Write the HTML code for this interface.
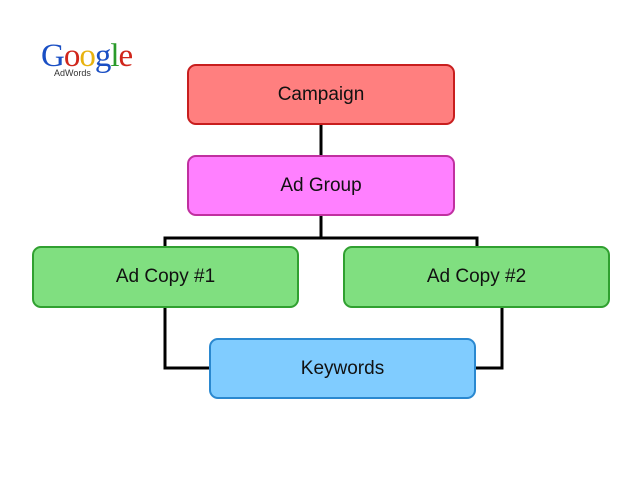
<!DOCTYPE html>
<html><head><style>
body{margin:0;width:640px;height:480px;background:#fff;position:relative;overflow:hidden;font-family:"Liberation Sans",sans-serif}
.b{position:absolute;box-sizing:border-box;border:2px solid;border-radius:9px;display:flex;align-items:center;justify-content:center;font-size:19px;color:#111}
</style></head><body>
<svg width="640" height="480" style="position:absolute;left:0;top:0">
<g stroke="#000" stroke-width="3" fill="none">
<line x1="321" y1="125" x2="321" y2="155"/>
<polyline points="321,216 321,238"/>
<polyline points="165,246 165,238 477,238 477,246"/>
<polyline points="165,308 165,368 209,368"/>
<polyline points="502,308 502,368 476,368"/>
</g>
</svg>
<div style="position:absolute;left:41px;top:38px;font-family:'Liberation Serif',serif;font-size:33px;letter-spacing:-1px">
<span style="color:#1a4fc4">G</span><span style="color:#d0261b">o</span><span style="color:#e8b20e">o</span><span style="color:#1a4fc4">g</span><span style="color:#2a9a2a">l</span><span style="color:#d0261b">e</span></div>
<div style="position:absolute;left:54px;top:68px;font-size:9px;color:#333">AdWords</div>
<div class="b" style="left:187px;top:64px;width:268px;height:61px;background:#ff7f7f;border-color:#c81e1e">Campaign</div>
<div class="b" style="left:187px;top:155px;width:268px;height:61px;background:#ff80ff;border-color:#c030a0">Ad Group</div>
<div class="b" style="left:32px;top:246px;width:267px;height:62px;background:#80df80;border-color:#30a030">Ad Copy #1</div>
<div class="b" style="left:343px;top:246px;width:267px;height:62px;background:#80df80;border-color:#30a030">Ad Copy #2</div>
<div class="b" style="left:209px;top:338px;width:267px;height:61px;background:#80ccff;border-color:#2a88d0">Keywords</div>
</body></html>
